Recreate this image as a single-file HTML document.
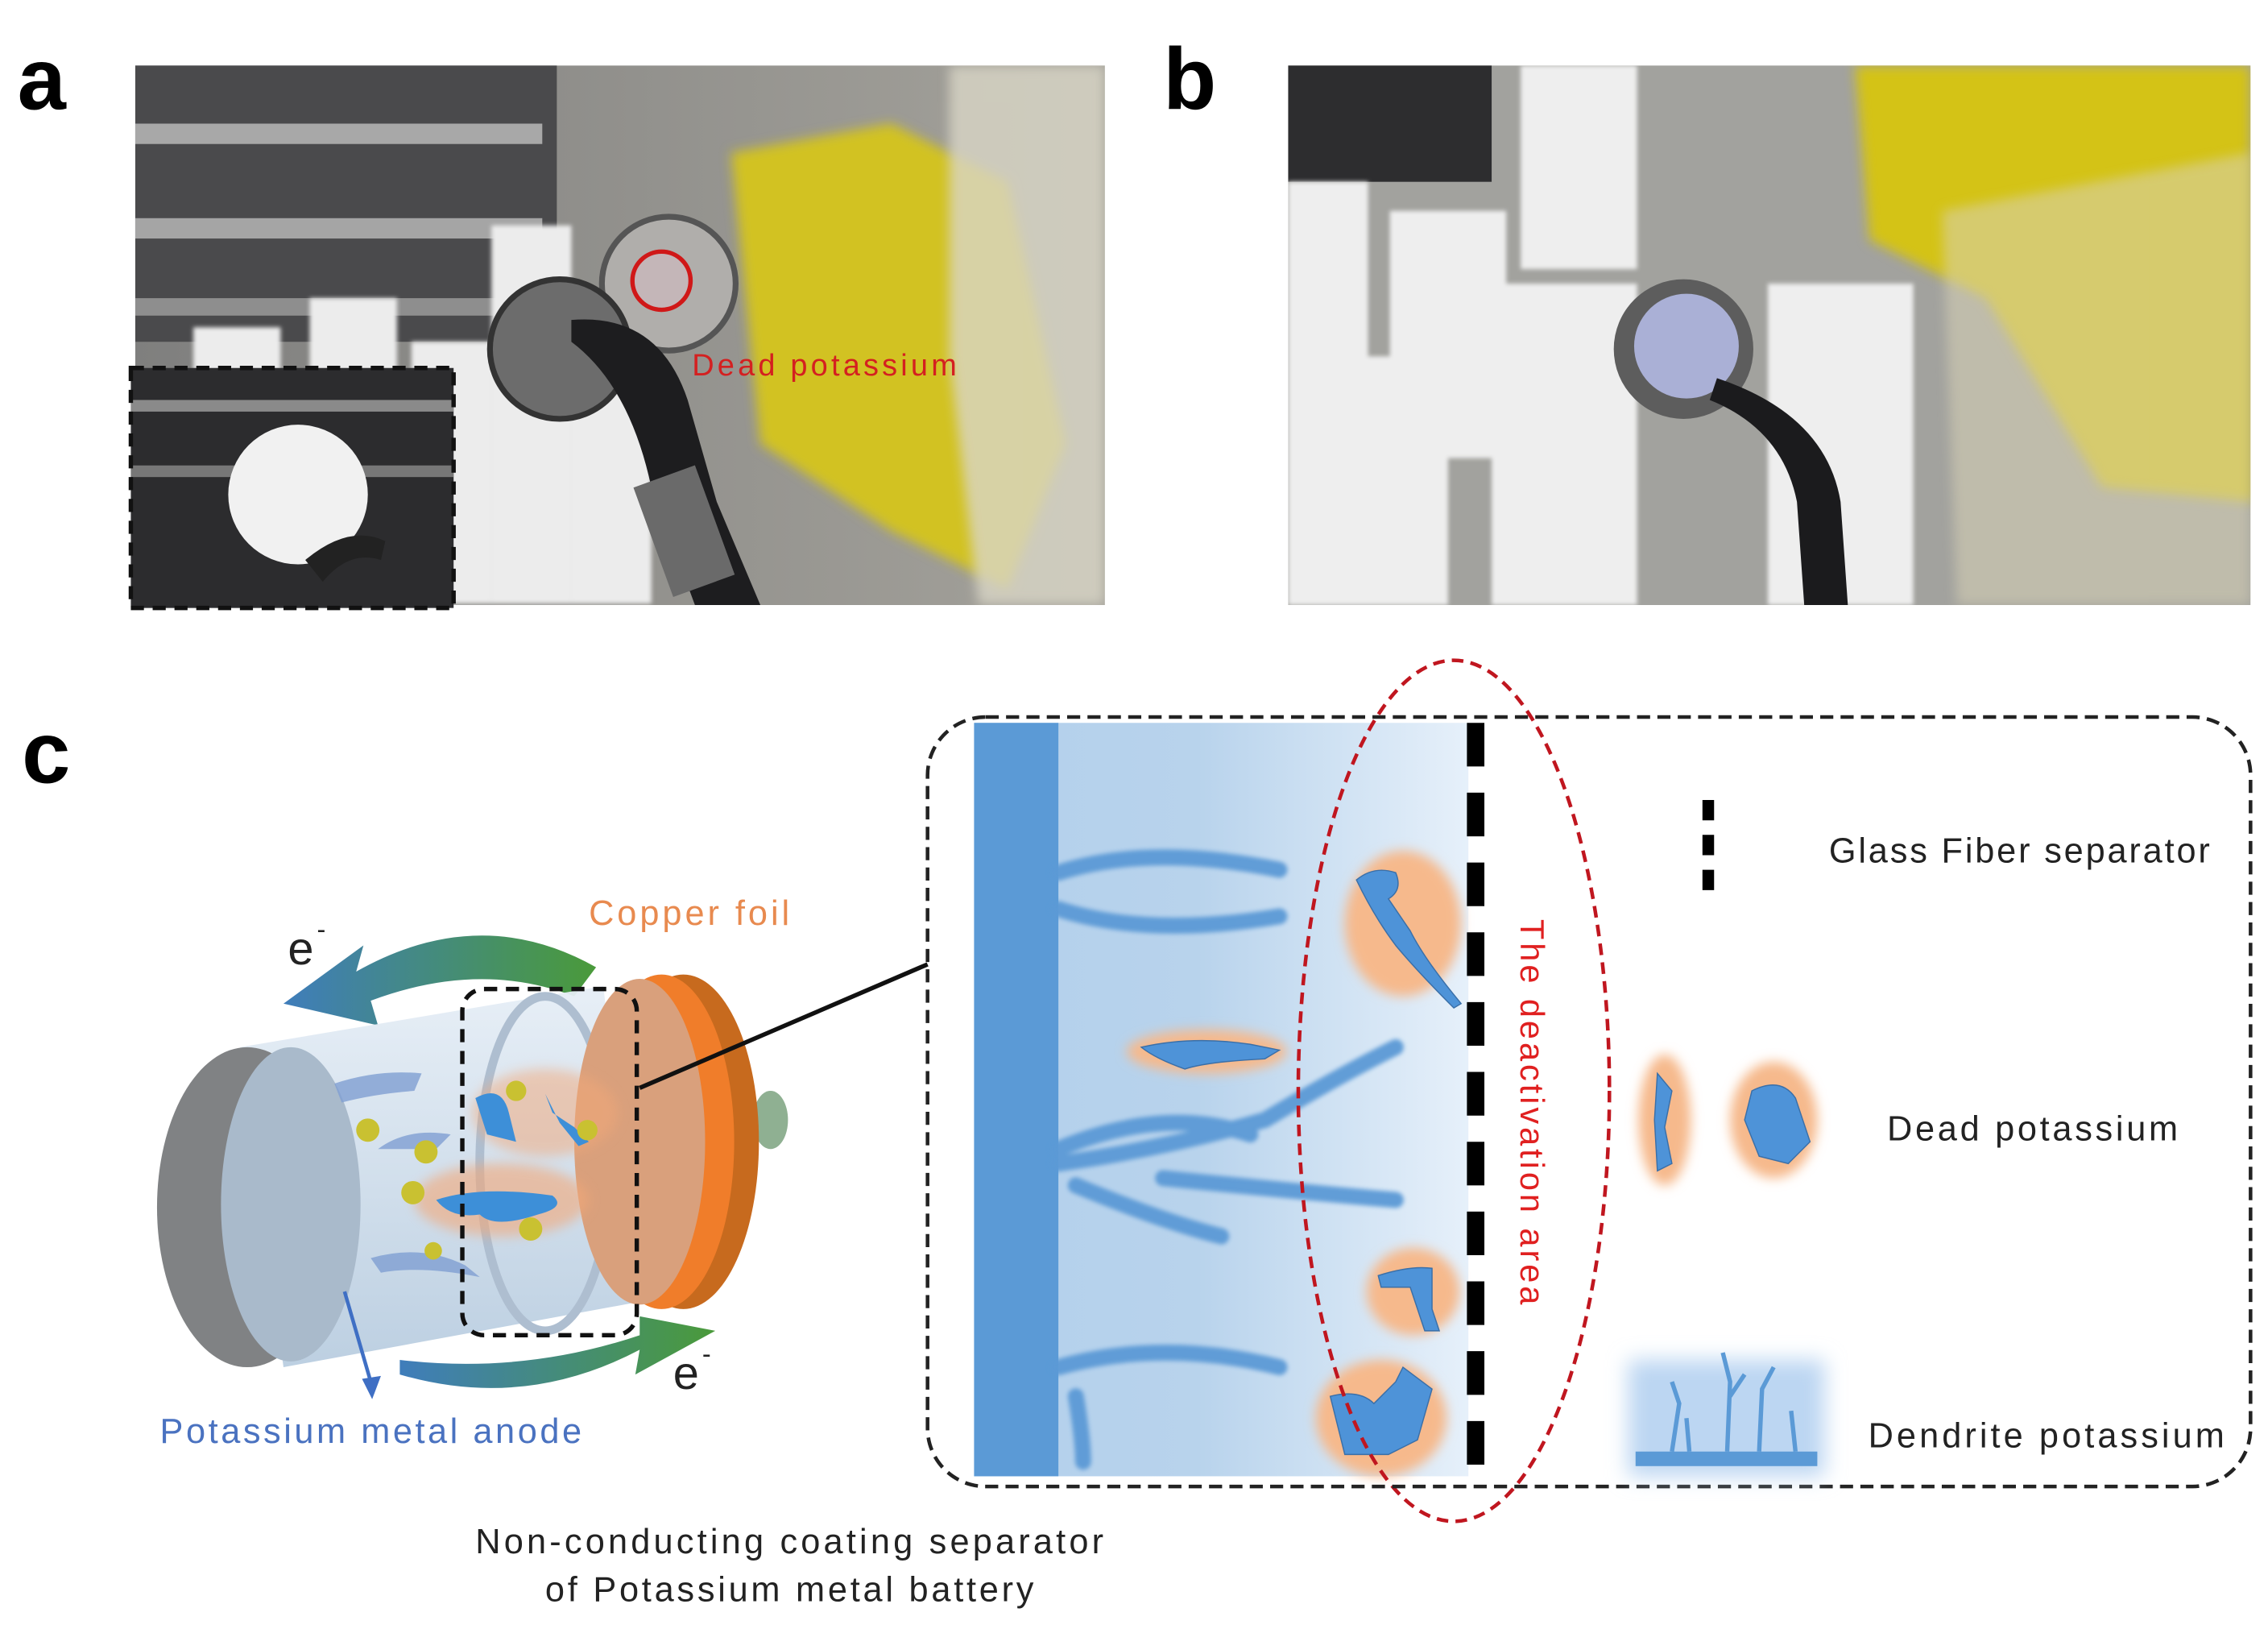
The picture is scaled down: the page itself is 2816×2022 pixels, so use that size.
<!DOCTYPE html>
<html><head><meta charset="utf-8"><style>
html,body{margin:0;padding:0;background:#fff}
svg{display:block}
text{font-family:"Liberation Sans","DejaVu Sans",sans-serif}
</style></head><body>
<svg width="2816" height="2022" viewBox="0 0 1560 1120" preserveAspectRatio="none" xmlns="http://www.w3.org/2000/svg">
<defs>
<filter id="bl" x="-20%" y="-20%" width="140%" height="140%"><feGaussianBlur stdDeviation="4"/></filter>
<filter id="bl2" x="-30%" y="-30%" width="160%" height="160%"><feGaussianBlur stdDeviation="7"/></filter>
<filter id="bl1"><feGaussianBlur stdDeviation="1.5"/></filter>
<linearGradient id="grad" x1="0" x2="1" y1="0" y2="0">
<stop offset="0" stop-color="#b3d0ec"/><stop offset="0.45" stop-color="#b8d3ec"/><stop offset="1" stop-color="#e6f0fa"/></linearGradient>
<linearGradient id="arrT" x1="1" x2="0" y1="0" y2="0"><stop offset="0" stop-color="#4a9a3a"/><stop offset="1" stop-color="#3f7dbb"/></linearGradient>
<linearGradient id="arrB" x1="0" x2="1" y1="0" y2="0"><stop offset="0" stop-color="#3f7dbb"/><stop offset="1" stop-color="#4a9a3a"/></linearGradient>
<linearGradient id="body" x1="0" x2="0" y1="0" y2="1"><stop offset="0" stop-color="#e6eef6"/><stop offset="1" stop-color="#b9cde0"/></linearGradient>
<linearGradient id="pa" x1="0" x2="1" y1="0" y2="0"><stop offset="0" stop-color="#7f7f7e"/><stop offset="1" stop-color="#a4a29b"/></linearGradient>
</defs>

<text x="12" y="75" font-size="60" font-weight="bold">a</text>
<text x="800" y="75" font-size="60" font-weight="bold">b</text>
<text x="15" y="538" font-size="60" font-weight="bold">c</text>

<!-- photo a -->
<svg x="93" y="45" width="667" height="371" viewBox="0 0 667 371">
<rect width="667" height="371" fill="url(#pa)"/>
<rect x="0" y="0" width="290" height="190" fill="#4a4a4c"/>
<rect x="0" y="40" width="280" height="14" fill="#a8a8a8"/>
<rect x="0" y="105" width="280" height="14" fill="#a5a5a5"/>
<rect x="0" y="160" width="280" height="12" fill="#8e8e8e"/>
<g fill="#ececec" filter="url(#bl1)">
<rect x="40" y="180" width="60" height="190"/><rect x="120" y="160" width="60" height="210"/><rect x="190" y="190" width="55" height="180"/><rect x="245" y="110" width="55" height="260"/><rect x="300" y="210" width="55" height="160"/>
</g>
<path d="M410 60 L520 40 L600 80 L640 260 L600 360 L520 320 L430 260 Z" fill="#d2c224" filter="url(#bl)"/>
<path d="M560 0 L667 0 L667 371 L580 371 L560 200 Z" fill="#d9d6c6" opacity="0.8" filter="url(#bl)"/>
<circle cx="367" cy="150" r="46" fill="#b0aeab" stroke="#555" stroke-width="4"/>
<circle cx="362" cy="148" r="20" fill="#c4b6b8" stroke="#d01818" stroke-width="3"/>
<circle cx="292" cy="195" r="48" fill="#6c6c6c" stroke="#333" stroke-width="4"/>
<path d="M300 175 Q360 170 380 230 L400 300 L430 371 L385 371 L355 290 Q340 220 300 190 Z" fill="#1d1d1f"/>
<rect x="355" y="280" width="45" height="80" fill="#6a6a6a" transform="rotate(-20 378 320)"/>
</svg>
<text x="476" y="258" font-size="21" fill="#d42020" textLength="182">Dead potassium</text>
<rect x="90" y="253" width="222" height="165" fill="#2c2c2e"/>
<rect x="90" y="275" width="222" height="8" fill="#8a8a8a"/>
<rect x="90" y="320" width="222" height="8" fill="#777"/>
<circle cx="205" cy="340" r="48" fill="#f1f1f1"/>
<path d="M210 385 Q240 360 265 372 L262 385 Q240 378 222 400 Z" fill="#222"/>
<rect x="90" y="253" width="222" height="165" fill="none" stroke="#111" stroke-width="3" stroke-dasharray="9,6"/>

<!-- photo b -->
<svg x="886" y="45" width="662" height="371" viewBox="0 0 662 371">
<rect width="662" height="371" fill="#a2a29e"/>
<rect x="0" y="0" width="140" height="80" fill="#2d2d2f"/>
<g fill="#eeeeee" filter="url(#bl1)">
<rect x="0" y="80" width="55" height="291"/><rect x="20" y="200" width="90" height="171"/><rect x="70" y="100" width="80" height="170"/><rect x="160" y="0" width="80" height="140"/><rect x="140" y="150" width="100" height="221"/><rect x="330" y="150" width="100" height="221"/>
</g>
<path d="M390 0 L662 0 L662 300 L560 290 L480 160 L400 120 Z" fill="#d4c318" filter="url(#bl)"/>
<path d="M450 100 L662 60 L662 371 L460 371 Z" fill="#d8d2b6" opacity="0.55" filter="url(#bl)"/>
<circle cx="272" cy="195" r="48" fill="#5d5d5d"/>
<circle cx="274" cy="193" r="36" fill="#aab0d6"/>
<path d="M295 215 Q370 240 380 300 L385 371 L355 371 L350 300 Q340 250 290 230 Z" fill="#1b1b1d"/>
</svg>

<!-- cylinder -->
<path d="M410 665 Q330 620 245 668 L250 650 L195 690 L260 705 L255 688 Q330 660 395 685 Z" fill="url(#arrT)"/>
<text x="198" y="663" font-size="32" fill="#222">e</text><text x="218" y="645" font-size="18" fill="#222">-</text>
<path d="M165 720 L415 678 L440 895 L195 940 Z" fill="url(#body)" opacity="0.95"/>
<ellipse cx="375" cy="800" rx="45" ry="115" fill="none" stroke="#aebed0" stroke-width="6"/>
<ellipse cx="530" cy="770" rx="12" ry="20" fill="#8fb092"/>
<ellipse cx="470" cy="785" rx="52" ry="115" fill="#c76a1e"/>
<ellipse cx="455" cy="785" rx="50" ry="115" fill="#f07d2a"/>
<ellipse cx="440" cy="785" rx="45" ry="112" fill="#d9a07c"/>
<ellipse cx="170" cy="830" rx="62" ry="110" fill="#808284"/>
<ellipse cx="200" cy="828" rx="48" ry="108" fill="#a9bacb"/>
<g fill="#7f9fd2" opacity="0.8">
<path d="M230 745 Q260 735 290 738 L285 750 Q258 752 235 758 Z"/>
<path d="M260 790 Q280 775 310 780 L300 790 Z"/>
<path d="M255 865 Q290 855 320 870 L330 878 Q290 870 262 875 Z"/>
</g>
<ellipse cx="345" cy="825" rx="60" ry="25" fill="#f3a878" opacity="0.6" filter="url(#bl)"/>
<ellipse cx="375" cy="765" rx="50" ry="30" fill="#f3a878" opacity="0.5" filter="url(#bl)"/>
<g fill="#3d8fd8">
<path d="M300 825 Q330 815 380 822 Q390 830 370 835 Q340 845 330 835 Q310 838 300 825 Z"/>
<path d="M327 755 Q345 745 350 765 L355 785 L335 780 Z"/>
<path d="M375 752 L380 765 L395 775 L405 785 L398 788 L385 772 Z"/>
</g>
<g fill="#c9c131">
<circle cx="253" cy="777" r="8"/><circle cx="293" cy="792" r="8"/><circle cx="284" cy="820" r="8"/><circle cx="355" cy="750" r="7"/><circle cx="404" cy="777" r="7"/><circle cx="365" cy="845" r="8"/><circle cx="298" cy="860" r="6"/>
</g>
<rect x="318" y="680" width="120" height="238" rx="15" fill="none" stroke="#111" stroke-width="3" stroke-dasharray="9,6"/>
<line x1="440" y1="748" x2="638" y2="663" stroke="#111" stroke-width="3"/>
<path d="M275 945 Q360 970 440 928 L437 945 L492 915 L440 905 L440 918 Q360 945 275 935 Z" fill="url(#arrB)"/>
<text x="463" y="955" font-size="32" fill="#222">e</text><text x="483" y="937" font-size="18" fill="#222">-</text>
<line x1="237" y1="888" x2="255" y2="950" stroke="#3f6fc4" stroke-width="2.5"/>
<path d="M249 948 L256 962 L262 946 Z" fill="#3f6fc4"/>
<text x="405" y="636" font-size="24" fill="#e88a4f" textLength="138">Copper foil</text>
<text x="110" y="992" font-size="24" fill="#4a72c0" textLength="290">Potassium metal anode</text>
<text x="327" y="1068" font-size="24" fill="#222" textLength="432">Non-conducting coating separator</text>
<text x="375" y="1101" font-size="24" fill="#222" textLength="336">of Potassium metal battery</text>

<!-- big box -->
<rect x="670" y="497" width="340" height="518" fill="url(#grad)"/>
<rect x="670" y="497" width="58" height="518" fill="#5b9ad6"/>
<g fill="none" stroke="#5b9ad6" stroke-width="11" stroke-linecap="round" filter="url(#bl1)" opacity="0.95">
<path d="M728 600 Q790 580 880 598"/>
<path d="M728 625 Q790 645 880 630"/>
<path d="M728 800 Q800 790 870 770 Q920 740 960 720"/>
<path d="M728 790 Q800 760 860 780"/>
<path d="M740 815 Q800 840 840 850"/>
<path d="M800 810 Q900 820 960 825"/>
<path d="M728 940 Q800 920 880 940"/>
<path d="M740 960 Q745 990 745 1005"/>
</g>
<g fill="#f6b98c" filter="url(#bl)">
<ellipse cx="830" cy="723" rx="55" ry="15"/>
<ellipse cx="965" cy="635" rx="40" ry="50"/>
<ellipse cx="972" cy="888" rx="32" ry="30"/>
<ellipse cx="950" cy="975" rx="45" ry="40"/>
<ellipse cx="1145" cy="770" rx="18" ry="45"/>
<ellipse cx="1220" cy="770" rx="30" ry="40"/>
</g>
<g fill="#4e93d8" stroke="#3a6fa8" stroke-width="0.8">
<path d="M785 720 Q820 712 860 718 L880 722 L870 728 Q830 730 815 735 Q795 728 785 720 Z"/>
<path d="M933 605 Q945 595 960 600 Q965 612 955 618 L970 640 Q980 660 1005 690 L1000 693 Q975 668 960 650 Q945 630 933 605 Z"/>
<path d="M948 877 Q970 870 985 872 L985 900 L990 915 L980 915 L970 885 L950 885 Z"/>
<path d="M915 960 Q935 955 945 965 L960 950 L965 940 L985 955 L975 990 L955 1000 L925 1000 Z"/>
<path d="M1140 738 L1150 750 L1145 775 L1150 800 L1140 805 L1138 770 Z"/>
<path d="M1205 750 Q1225 740 1235 755 L1245 785 L1230 800 L1210 795 L1200 770 Z"/>
</g>
<line x1="1015" y1="497" x2="1015" y2="1015" stroke="#000" stroke-width="12" stroke-dasharray="30,18"/>
<ellipse cx="1000" cy="750" rx="107" ry="296" fill="none" stroke="#c0161f" stroke-width="2.5" stroke-dasharray="8,5"/>
<text transform="translate(1046,632) rotate(90)" font-size="23" fill="#e02020" textLength="265">The deactivation area</text>
<rect x="638" y="493" width="910" height="529" rx="40" fill="none" stroke="#222" stroke-width="2.5" stroke-dasharray="9,5"/>
<line x1="1175" y1="550" x2="1175" y2="612" stroke="#000" stroke-width="8" stroke-dasharray="14,10"/>
<text x="1258" y="593" font-size="24" fill="#222" textLength="262">Glass Fiber separator</text>
<text x="1298" y="784" font-size="24" fill="#222" textLength="200">Dead potassium</text>
<rect x="1120" y="935" width="135" height="80" fill="#bcd6f2" filter="url(#bl2)"/>
<rect x="1125" y="998" width="125" height="10" fill="#5b9ad6"/>
<g stroke="#5b9ad6" stroke-width="3" fill="none">
<path d="M1150 998 L1155 965 L1150 950"/><path d="M1162 998 L1160 975"/><path d="M1188 998 L1190 950 L1185 930 M1190 960 L1200 945"/><path d="M1210 998 L1212 955 L1220 940"/><path d="M1235 998 L1232 970"/>
</g>
<text x="1285" y="995" font-size="24" fill="#222" textLength="245">Dendrite potassium</text>
</svg>
</body></html>
